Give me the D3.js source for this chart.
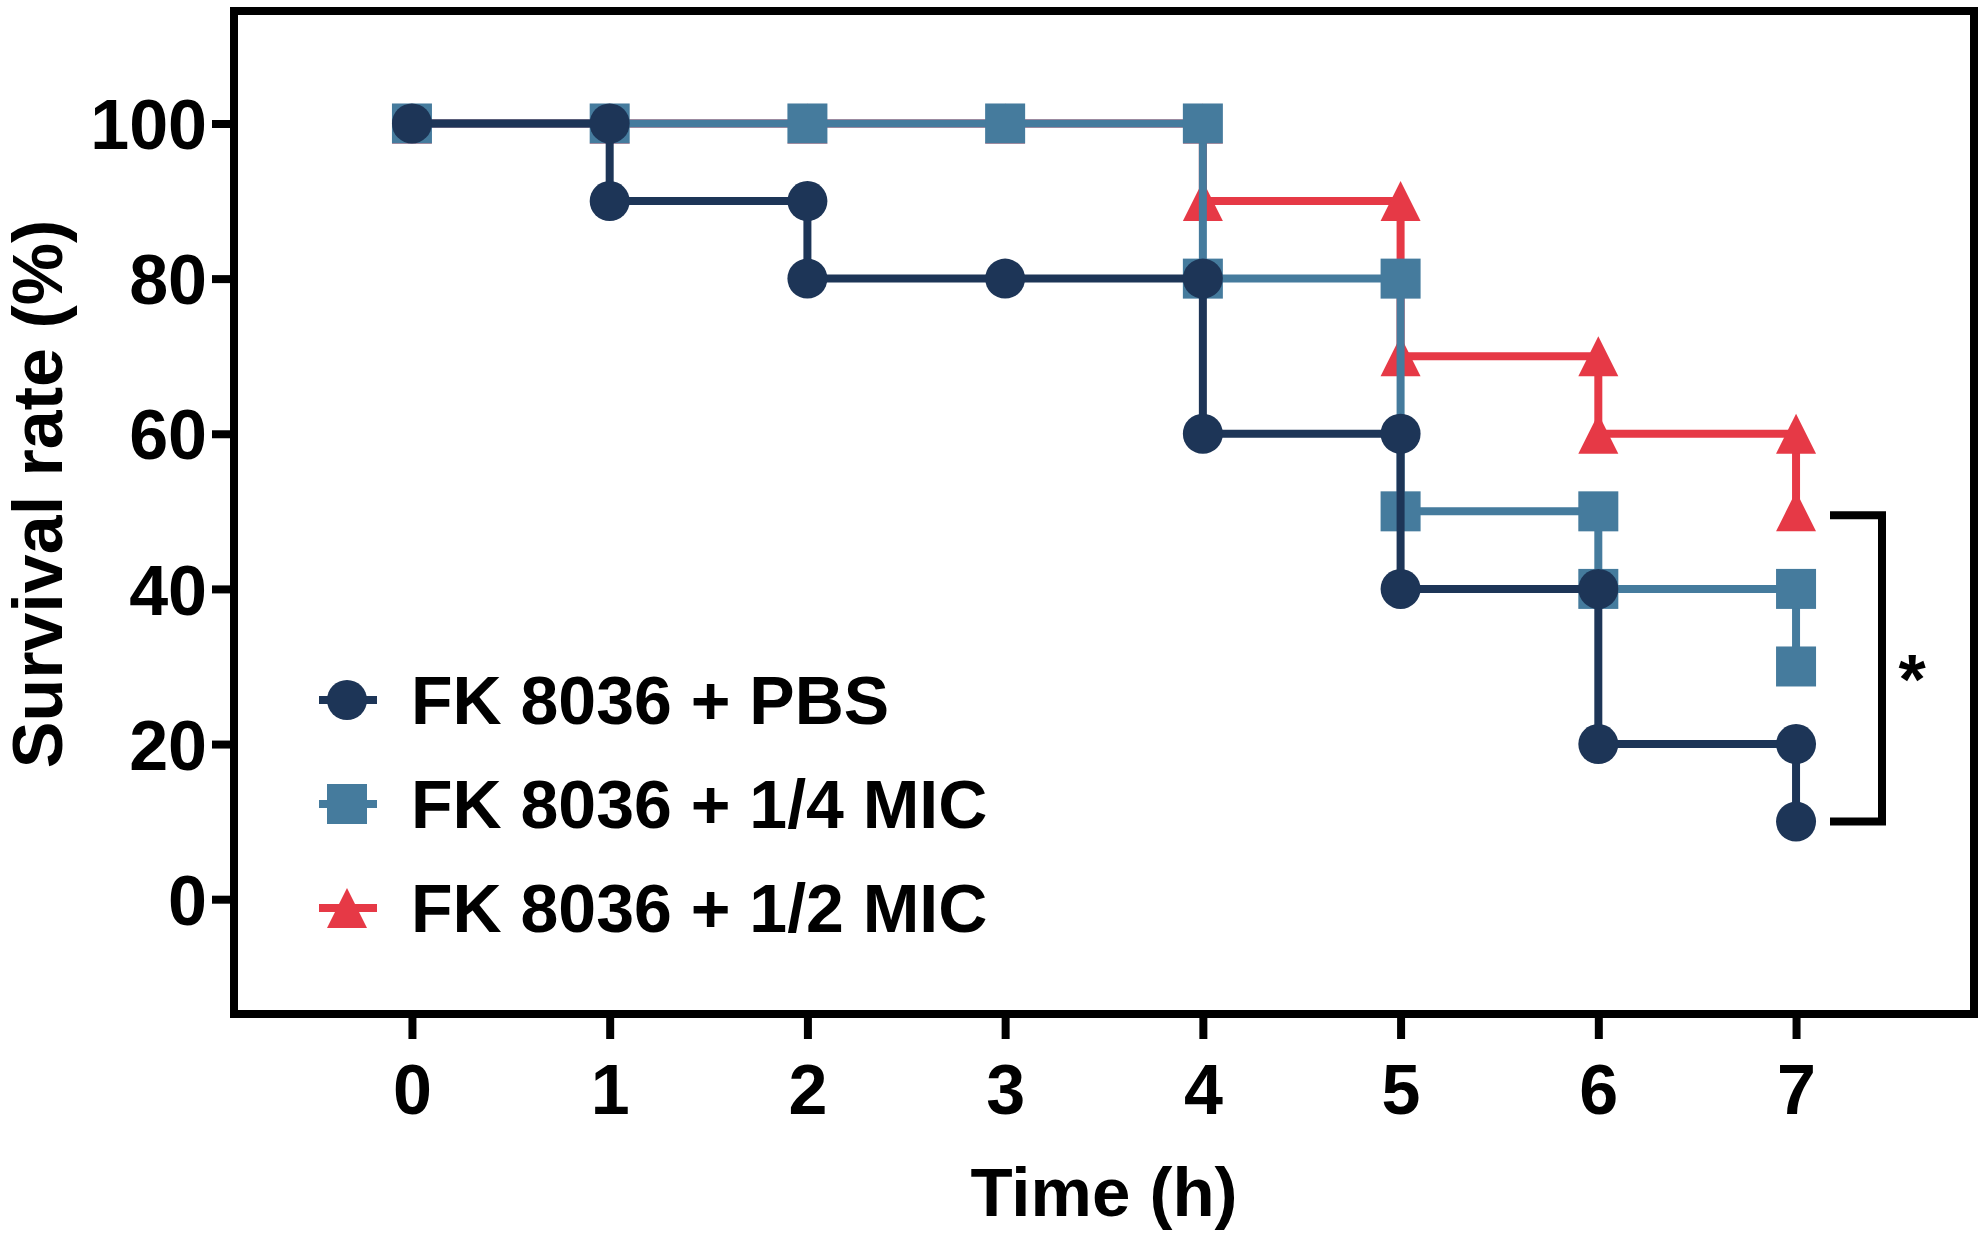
<!DOCTYPE html>
<html>
<head>
<meta charset="utf-8">
<script src="https://cdn.jsdelivr.net/npm/d3@7"></script>
<style>
  html, body { margin: 0; padding: 0; background: #fff; }
  svg { display: block; font-family: Arial, 'Liberation Sans', sans-serif; font-weight: bold; }
</style>
</head>
<body>
<div class="chart_container"></div>
<script>
'use strict';

// time points (h)
const times = [0, 1, 2, 3, 4, 5, 6, 7];

// survival (%) at each time point
const pbs = [100, 90, 80, 80, 60, 40, 20, 10];
const quarterMic = [100, 100, 100, 100, 80, 50, 40, 30];
const halfMic = [100, 100, 100, 100, 90, 70, 60, 50];

const seriesNames = ['FK 8036 + PBS', 'FK 8036 + 1/4 MIC', 'FK 8036 + 1/2 MIC'];
const yTicks = [0, 20, 40, 60, 80, 100];
const xTicks = [0, 1, 2, 3, 4, 5, 6, 7];

const width = 1983,
  height = 1236;

const svg = d3.select('.chart_container')
  .append('svg')
  .attr('width', width)
  .attr('height', height);

const plotLeft = 234, plotRight = 1974, plotTop = 11, plotBottom = 1014;

const xScale = d3.scaleLinear()
  .domain([-0.9, 7.9])
  .range([plotLeft, plotRight]);

const yScale = d3.scaleLinear()
  .domain([-14.8, 114.5])
  .range([plotBottom, plotTop]);

// drawn bottom to top: red under blue under navy
const series = [
  { name: seriesNames[2], values: halfMic, color: '#e63946', shape: 'triangle' },
  { name: seriesNames[1], values: quarterMic, color: '#457b9d', shape: 'square' },
  { name: seriesNames[0], values: pbs, color: '#1d3557', shape: 'circle' }
];

const markerSize = 40;

function drawMarker(g, shape, color) {
  if (shape === 'circle') {
    g.append('circle').attr('r', markerSize / 2).attr('fill', color);
  } else if (shape === 'square') {
    g.append('rect')
      .attr('x', -markerSize / 2).attr('y', -markerSize / 2)
      .attr('width', markerSize).attr('height', markerSize)
      .attr('fill', color);
  } else {
    const h = markerSize / 2;
    g.append('path')
      .attr('d', `M0,${-h}L${h},${h}L${-h},${h}Z`)
      .attr('fill', color);
  }
}

// frame
svg.append('rect')
  .attr('x', plotLeft)
  .attr('y', plotTop)
  .attr('width', plotRight - plotLeft)
  .attr('height', plotBottom - plotTop)
  .attr('fill', 'none')
  .attr('stroke', '#000')
  .attr('stroke-width', 8);

// axes
const yAxis = svg.append('g')
  .attr('transform', `translate(${plotLeft}, 0)`)
  .call(d3.axisLeft(yScale).tickValues(yTicks).tickSize(22).tickSizeOuter(0).tickPadding(7));

const xAxis = svg.append('g')
  .attr('transform', `translate(0, ${plotBottom})`)
  .call(d3.axisBottom(xScale).tickValues(xTicks).tickSize(25).tickSizeOuter(0));

[xAxis, yAxis].forEach(a => {
  a.select('.domain').remove();
  a.selectAll('.tick line').attr('stroke', '#000').attr('stroke-width', 8);
  a.selectAll('.tick text')
    .attr('fill', '#000')
    .style('font-size', '70px')
    .style('font-family', "Arial, 'Liberation Sans', sans-serif")
    .style('font-weight', 'bold');
});

yAxis.selectAll('.tick text').attr('x', -27).attr('dy', '0.36em');
xAxis.selectAll('.tick text').attr('y', 100).attr('dy', 0);

// axis titles
svg.append('text')
  .attr('transform', `translate(62, 494) rotate(-90)`)
  .attr('text-anchor', 'middle')
  .style('font-size', '70px')
  .text('Survival rate (%)');

svg.append('text')
  .attr('x', (plotLeft + plotRight) / 2)
  .attr('y', 1216)
  .attr('text-anchor', 'middle')
  .style('font-size', '69px')
  .text('Time (h)');

// step lines and markers
const line = d3.line()
  .x(d => xScale(d.t))
  .y(d => yScale(d.v))
  .curve(d3.curveStepAfter);

series.forEach(s => {
  const pts = times.map((t, i) => ({ t, v: s.values[i] }));
  const g = svg.append('g');

  g.append('path')
    .attr('d', line(pts))
    .attr('fill', 'none')
    .attr('stroke', s.color)
    .attr('stroke-width', 8);

  const marks = [];
  times.forEach((t, i) => {
    if (i > 0 && s.values[i - 1] !== s.values[i]) marks.push({ t, v: s.values[i - 1] });
    marks.push({ t, v: s.values[i] });
  });

  marks.forEach(m => {
    const mg = g.append('g')
      .attr('transform', `translate(${xScale(m.t)}, ${yScale(m.v)})`);
    drawMarker(mg, s.shape, s.color);
  });
});

// significance bracket between PBS and 1/2 MIC at 7 h
const bx = 1882, bx0 = 1830;
const by1 = yScale(halfMic[7]) + 4, by2 = yScale(pbs[7]);
svg.append('path')
  .attr('d', `M${bx0},${by1}H${bx}V${by2}H${bx0}`)
  .attr('fill', 'none')
  .attr('stroke', '#000')
  .attr('stroke-width', 8);

svg.append('text')
  .attr('x', 1912)
  .attr('y', (by1 + by2) / 2 + 36)
  .attr('text-anchor', 'middle')
  .style('font-size', '70px')
  .text('*');

// legend
const legendOrder = [series[2], series[1], series[0]];
const legend = svg.append('g');
legendOrder.forEach((s, i) => {
  const cy = 700 + i * 104;
  const lg = legend.append('g').attr('transform', `translate(347, ${cy})`);
  lg.append('line')
    .attr('x1', -28).attr('x2', 30)
    .attr('stroke', s.color)
    .attr('stroke-width', 8);
  drawMarker(lg, s.shape, s.color);
  legend.append('text')
    .attr('x', 411)
    .attr('y', cy + 24)
    .style('font-size', '68px')
    .text(s.name);
});
</script>
</body>
</html>
